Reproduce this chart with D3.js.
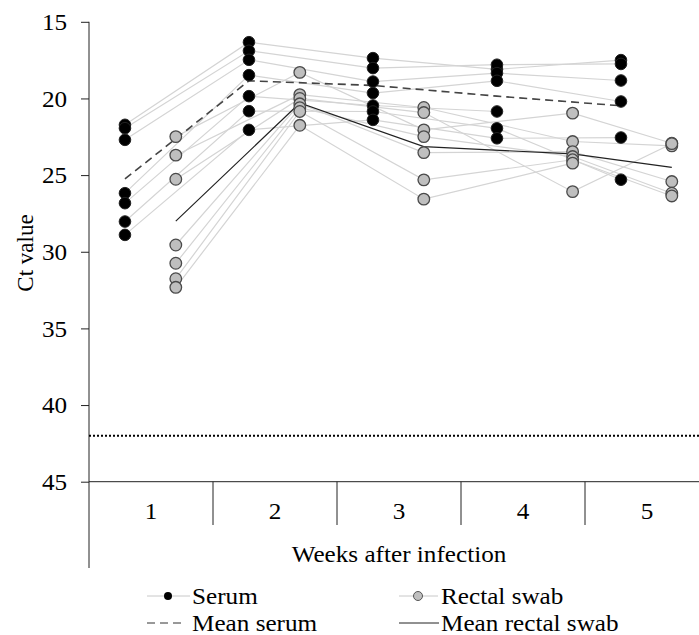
<!DOCTYPE html>
<html>
<head>
<meta charset="utf-8">
<script src="https://cdn.jsdelivr.net/npm/d3@7"></script>
<style>
  body { margin: 0; background: #fff; }
  text { font-family: "Liberation Serif", "Times New Roman", serif; fill: #000; }
</style>
</head>
<body>
<div id="chart"></div>
<script>
// weeks and where each group sits inside its week (in week units)
var weeks = [1, 2, 3, 4, 5];
var serumX = [0.79, 1.79, 2.79, 3.79, 4.79];
var swabX = [1.2, 2.2, 3.2, 4.4, 5.2];

// Ct values per animal, week 1..5 (null = no value)
var serum = [
  [21.72, 16.33, 17.37, 18.10, 17.50],
  [21.94, 16.89, 18.02, 17.80, 17.75],
  [22.70, 17.48, 18.90, 18.35, 18.83],
  [26.18, 18.48, 19.65, 18.85, 20.20],
  [26.83, 19.85, 20.46, 20.85, null],
  [28.03, 20.83, 20.85, 21.95, 25.30],
  [28.90, 22.05, 21.40, 22.60, 22.55]
];
var swab = [
  [22.49, 18.30, 22.05, 20.96, 22.92],
  [23.70, 19.75, 20.59, 22.81, 23.09],
  [25.27, 20.00, 20.92, 26.08, 22.95],
  [29.56, 20.35, 23.53, 23.47, 25.42],
  [30.75, 20.60, 22.49, 23.79, 26.18],
  [31.76, 20.85, 25.31, 24.00, 26.36],
  [32.32, 21.75, 26.57, 24.22, null]
];
var meanSerum = [25.25, 18.85, 19.15, 19.85, 20.48];
var meanSwab = [28.0, 20.3, 23.14, 23.62, 24.49];
var cutoff = 42;
var yTicks = [15, 20, 25, 30, 35, 40, 45];

var W = 699, H = 635;
var svg = d3.select('#chart').append('svg')
    .attr('width', W)
    .attr('height', H);

var x = d3.scaleLinear().domain([0.5, 5.5]).range([89, 709]);
var y = d3.scaleLinear().domain([15, 45]).range([21.8, 481.7]);
var fontSize = 22.5,
    stretch = 1.12; // the original type is a little wide

// text helper: places a label and widens it a bit
function label(parent, tx, ty, str, anchor) {
  return parent.append('text')
      .attr('transform', 'translate(' + tx + ',' + ty + ') scale(' + stretch + ',1)')
      .attr('text-anchor', anchor || 'start')
      .attr('font-size', fontSize)
      .text(str);
}

// y axis
var yAxis = d3.axisLeft(y)
    .tickValues(yTicks)
    .tickSize(8)
    .tickPadding(11.5)
    .tickSizeOuter(0);
var gy = svg.append('g')
    .attr('transform', 'translate(' + x(0.5) + ',0)')
    .call(yAxis);
gy.select('.domain').remove();
gy.selectAll('.tick line').attr('stroke', '#222');
gy.selectAll('.tick text')
    .attr('font-size', fontSize)
    .attr('transform', 'scale(' + stretch + ',1)')
    .attr('dy', '0.34em');
svg.append('line')
    .attr('x1', x(0.5)).attr('x2', x(0.5))
    .attr('y1', y(15)).attr('y2', 568)
    .attr('stroke', '#222');

// x axis: baseline and week dividers
svg.append('line')
    .attr('x1', x(0.5)).attr('x2', W)
    .attr('y1', y(45)).attr('y2', y(45))
    .attr('stroke', '#222');
svg.selectAll('.divider')
    .data(weeks)
    .enter().append('line')
    .attr('class', 'divider')
    .attr('x1', function(d) { return x(d + 0.5); })
    .attr('x2', function(d) { return x(d + 0.5); })
    .attr('y1', y(45))
    .attr('y2', 525)
    .attr('stroke', '#222');
weeks.forEach(function(w) {
  label(svg, x(w), 519, w, 'middle');
});

// axis titles
label(svg, x(3), 562, 'Weeks after infection', 'middle');
svg.append('text')
    .attr('transform', 'translate(33,253) rotate(-90)')
    .attr('text-anchor', 'middle')
    .attr('font-size', 23)
    .text('Ct value');

// detection limit
svg.append('line')
    .attr('x1', x(0.5)).attr('x2', W)
    .attr('y1', y(cutoff)).attr('y2', y(cutoff))
    .attr('stroke', '#000')
    .attr('stroke-width', 2)
    .attr('stroke-dasharray', '2,2');

function lineFor(xs) {
  return d3.line()
      .defined(function(d) { return d != null; })
      .x(function(d, i) { return x(xs[i]); })
      .y(function(d) { return y(d); });
}

// individual animals
svg.selectAll('.serum-line')
    .data(serum)
    .enter().append('path')
    .attr('class', 'serum-line')
    .attr('d', lineFor(serumX))
    .attr('fill', 'none')
    .attr('stroke', '#d4d4d4')
    .attr('stroke-width', 1.2);
svg.selectAll('.swab-line')
    .data(swab)
    .enter().append('path')
    .attr('class', 'swab-line')
    .attr('d', lineFor(swabX))
    .attr('fill', 'none')
    .attr('stroke', '#d4d4d4')
    .attr('stroke-width', 1.2);

// means
svg.append('path')
    .attr('d', lineFor(serumX)(meanSerum))
    .attr('fill', 'none')
    .attr('stroke', '#444')
    .attr('stroke-width', 1.6)
    .attr('stroke-dasharray', '8,5');
svg.append('path')
    .attr('d', lineFor(swabX)(meanSwab))
    .attr('fill', 'none')
    .attr('stroke', '#222')
    .attr('stroke-width', 1.2);

// points
function flatten(rows, xs) {
  var out = [];
  rows.forEach(function(r) {
    r.forEach(function(v, i) {
      if (v != null) out.push({ x: xs[i], v: v });
    });
  });
  return out;
}
svg.selectAll('.serum-pt')
    .data(flatten(serum, serumX))
    .enter().append('circle')
    .attr('class', 'serum-pt')
    .attr('cx', function(d) { return x(d.x); })
    .attr('cy', function(d) { return y(d.v); })
    .attr('r', 5.8)
    .attr('fill', '#000')
    .attr('stroke', '#222')
    .attr('stroke-width', 1);
svg.selectAll('.swab-pt')
    .data(flatten(swab, swabX))
    .enter().append('circle')
    .attr('class', 'swab-pt')
    .attr('cx', function(d) { return x(d.x); })
    .attr('cy', function(d) { return y(d.v); })
    .attr('r', 5.8)
    .attr('fill', '#bfbfbf')
    .attr('stroke', '#4a4a4a')
    .attr('stroke-width', 1.3);

// legend
var legend = svg.append('g').attr('class', 'legend');
legend.append('line')
    .attr('x1', 147).attr('x2', 190).attr('y1', 596).attr('y2', 596)
    .attr('stroke', '#c8c8c8');
legend.append('circle')
    .attr('cx', 168).attr('cy', 596).attr('r', 4)
    .attr('fill', '#000');
label(legend, 192, 604, 'Serum');

legend.append('line')
    .attr('x1', 399).attr('x2', 438).attr('y1', 596).attr('y2', 596)
    .attr('stroke', '#c8c8c8');
legend.append('circle')
    .attr('cx', 418).attr('cy', 596).attr('r', 4.5)
    .attr('fill', '#bfbfbf')
    .attr('stroke', '#555');
label(legend, 441, 604, 'Rectal swab');

legend.append('line')
    .attr('x1', 147).attr('x2', 183).attr('y1', 623).attr('y2', 623)
    .attr('stroke', '#333')
    .attr('stroke-dasharray', '8,5');
label(legend, 192, 631, 'Mean serum');

legend.append('line')
    .attr('x1', 399).attr('x2', 439).attr('y1', 623).attr('y2', 623)
    .attr('stroke', '#222');
label(legend, 441, 631, 'Mean rectal swab');
</script>
</body>
</html>
